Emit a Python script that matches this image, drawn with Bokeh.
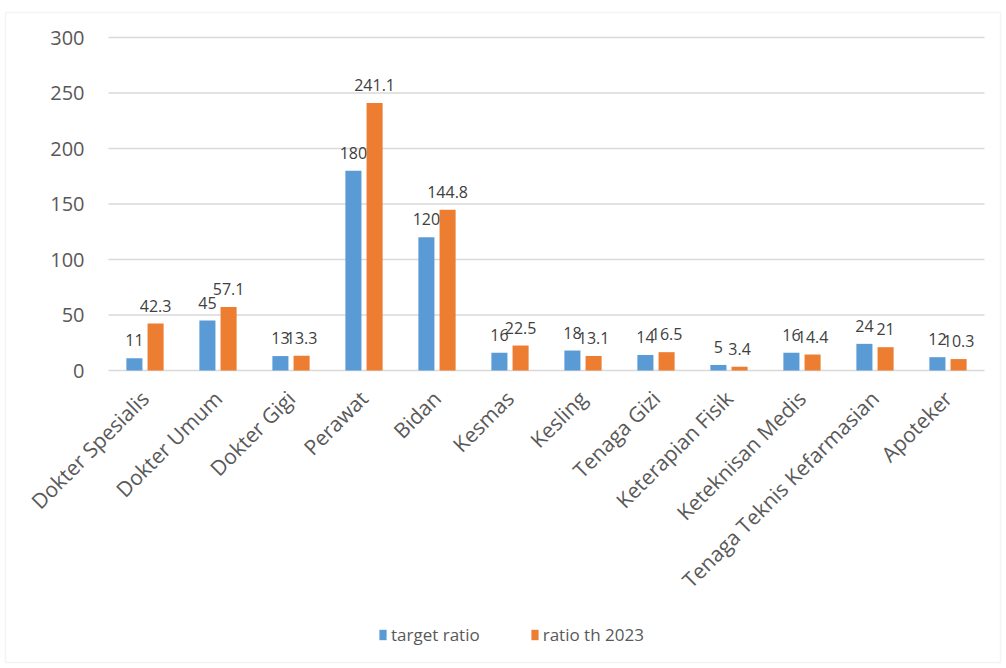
import math
from bokeh.plotting import figure
from bokeh.models import ColumnDataSource, Range1d, Legend, LegendItem, BoxAnnotation
from bokeh.transform import dodge
from bokeh.core.properties import value
from bokeh.embed import file_html
from bokeh.resources import INLINE

categories = ["Dokter Spesialis", "Dokter Umum", "Dokter Gigi", "Perawat", "Bidan", "Kesmas",
              "Kesling", "Tenaga Gizi", "Keterapian Fisik", "Keteknisan Medis",
              "Tenaga Teknis Kefarmasian", "Apoteker"]
target_ratio = [11, 45, 13, 180, 120, 16, 18, 14, 5, 16, 24, 12]
ratio_2023 = [42.3, 57.1, 13.3, 241.1, 144.8, 22.5, 13.1, 16.5, 3.4, 14.4, 21, 10.3]
y_ticks = [0, 50, 100, 150, 200, 250, 300]
series_names = ["target ratio", "ratio th 2023"]

BLUE = "#5B9BD5"
ORANGE = "#ED7D31"
FONT = "Open Sans"
W, H = 1006, 668

def fmt(v):
    return str(int(v)) if float(v).is_integer() else str(v)

n = len(categories)
src = ColumnDataSource(dict(
    pos=[i + 0.5 for i in range(n)],
    cat=categories,
    zero=[0] * n,
    target=target_ratio,
    actual=ratio_2023,
    target_lbl=[fmt(v) for v in target_ratio],
    actual_lbl=[fmt(v) for v in ratio_2023],
))
tick_src = ColumnDataSource(dict(
    y=y_ticks,
    x0=[0] * len(y_ticks),
    x1=[n] * len(y_ticks),
    lbl=[str(t) for t in y_ticks],
))

# The plotting frame covers the whole canvas; the category band [0, n] sits at px 108..984
# and the value band [0, 300] at px 370..37 (from top).
px_per_cat = 73.0
px_per_unit = 333.0 / 300.0
x_start = -108.0 / px_per_cat
y_start = -(H - 370.0) / px_per_unit
p = figure(width=W, height=H,
           x_range=Range1d(x_start, x_start + W / px_per_cat),
           y_range=Range1d(y_start, y_start + H / px_per_unit),
           x_axis_location=None, y_axis_location=None,
           output_backend="svg", toolbar_location=None,
           min_border=0, min_border_left=0, min_border_right=0,
           min_border_top=0, min_border_bottom=0)
p.outline_line_color = None
p.background_fill_color = "white"
p.border_fill_color = "white"
p.grid.visible = False

# grid lines and value labels
p.segment(x0="x0", x1="x1", y0="y", y1="y", source=tick_src,
          line_color="#D9D9D9", line_width=1.5)
p.text(x="x0", y="y", text="lbl", source=tick_src, text_align="right",
       text_baseline="middle", x_offset=-24,
       text_font=value(FONT), text_font_size="20px", text_color="#595959")

r1 = p.vbar(x=dodge("pos", -0.145), top="target", width=0.22, source=src,
            fill_color=BLUE, line_color=None)
r2 = p.vbar(x=dodge("pos", 0.145), top="actual", width=0.22, source=src,
            fill_color=ORANGE, line_color=None)

for off, col, ycol in [(-0.145, "target_lbl", "target"), (0.145, "actual_lbl", "actual")]:
    p.text(x=dodge("pos", off), y=ycol, text=col, source=src,
           text_align="center", text_baseline="bottom", y_offset=-12,
           text_font=value(FONT), text_font_size="16px", text_color="#404040")

# category labels, rotated 45 degrees under the zero line
p.text(x="pos", y="zero", text="cat", source=src, angle=math.pi / 4,
       text_align="right", text_baseline="middle", x_offset=0, y_offset=24,
       text_font=value(FONT), text_font_size="21px", text_color="#595959")

legend = Legend(items=[LegendItem(label=series_names[0], renderers=[r1]),
                       LegendItem(label=series_names[1], renderers=[r2])],
                orientation="horizontal", location=(378, 22))
legend.border_line_color = None
legend.background_fill_alpha = 0
legend.label_text_font = FONT
legend.label_text_font_size = "17px"
legend.label_text_color = "#595959"
legend.glyph_width = 9
legend.glyph_height = 13
legend.label_standoff = 4
legend.spacing = 50
p.add_layout(legend, "center")

border = BoxAnnotation(left=5, right=1000, top=656, bottom=6,
                       left_units="screen", right_units="screen",
                       top_units="screen", bottom_units="screen",
                       fill_alpha=0, line_color="#D9D9D9", line_width=1.5)
p.add_layout(border)

open("out.html", "w").write(file_html(p, INLINE))
